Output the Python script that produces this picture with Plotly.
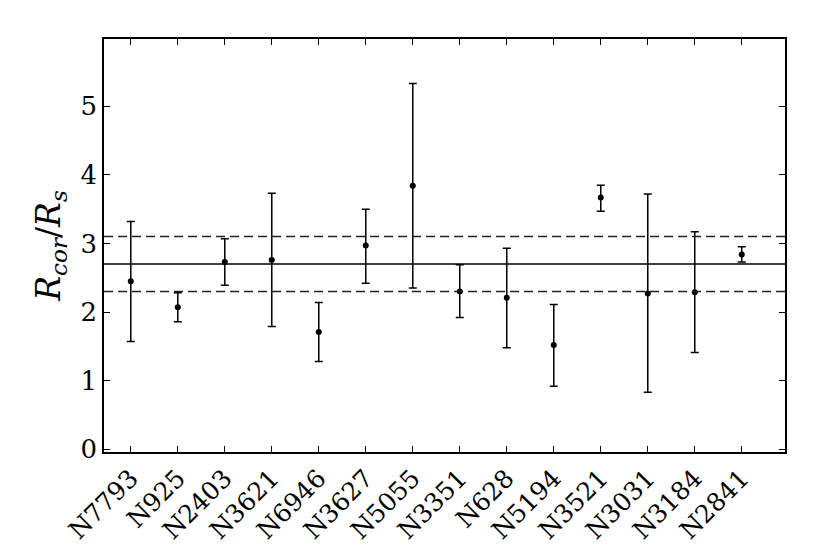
import plotly.graph_objects as go

galaxies = ["N7793", "N925", "N2403", "N3621", "N6946", "N3627", "N5055",
            "N3351", "N628", "N5194", "N3521", "N3031", "N3184", "N2841"]
ratio = [2.45, 2.07, 2.73, 2.76, 1.71, 2.97, 3.84, 2.30, 2.21, 1.52, 3.67, 2.27, 2.29, 2.84]
upper = [3.32, 2.28, 3.07, 3.73, 2.14, 3.50, 5.33, 2.69, 2.93, 2.11, 3.85, 3.72, 3.17, 2.95]
lower = [1.57, 1.86, 2.39, 1.79, 1.28, 2.42, 2.35, 1.92, 1.48, 0.92, 3.47, 0.83, 1.41, 2.73]
mean_ratio = 2.7
band = [2.3, 3.1]
y_ticks = [0, 1, 2, 3, 4, 5]

xs = list(range(len(galaxies)))
err_plus = [u - r for u, r in zip(upper, ratio)]
err_minus = [r - l for r, l in zip(ratio, lower)]

fig = go.Figure()
fig.add_trace(go.Scatter(
    x=xs, y=ratio, mode="markers",
    marker=dict(color="black", size=6),
    error_y=dict(type="data", symmetric=False, array=err_plus, arrayminus=err_minus,
                 color="black", thickness=1.5, width=4),
    showlegend=False,
))

fig.add_shape(type="line", xref="paper", x0=0, x1=1, yref="y", y0=mean_ratio, y1=mean_ratio,
              line=dict(color="black", width=1.5))
for b in band:
    fig.add_shape(type="line", xref="paper", x0=0, x1=1, yref="y", y0=b, y1=b,
                  line=dict(color="#222222", width=1.5, dash="9px,5px"))

serif = "DejaVu Serif"
fig.update_layout(
    width=822, height=540,
    margin=dict(l=96, r=45, t=31, b=96),
    plot_bgcolor="white", paper_bgcolor="white",
    font=dict(family=serif, color="black"),
)
fig.update_xaxes(
    range=[-0.57, 13.92], tickmode="array", tickvals=xs, ticktext=galaxies,
    tickangle=-45, ticks="inside", ticklen=6, tickwidth=1, tickcolor="black",
    showline=True, linecolor="black", linewidth=1.5, mirror="ticks",
    showgrid=False, zeroline=False, tickfont=dict(size=25, family=serif),
    automargin=False,
)
fig.update_yaxes(
    range=[-0.04, 5.98], tickmode="array", tickvals=y_ticks,
    ticks="inside", ticklen=6, tickwidth=1, tickcolor="black",
    showline=True, linecolor="black", linewidth=1.5, mirror="ticks",
    showgrid=False, zeroline=False, tickfont=dict(size=26, family=serif),
    title=dict(text="<i>R<sub>cor</sub></i>/<i>R<sub>s</sub></i>",
               font=dict(size=33, family=serif), standoff=10),
    automargin=False,
)

fig.write_html("out.html")
